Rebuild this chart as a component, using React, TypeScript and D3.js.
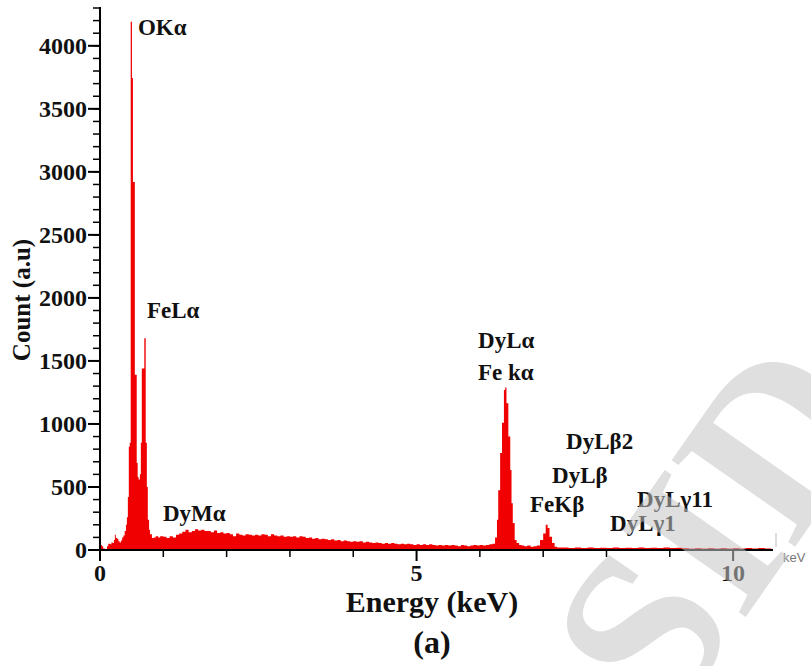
import React from 'react';
import * as d3 from 'd3';

// EDS spectrum: energy (keV) and counts (a.u.)
const energyKeV = [
  0.00, 0.03, 0.05, 0.08, 0.11, 0.13, 0.16, 0.18, 0.20, 0.22,
  0.235, 0.25, 0.27, 0.29, 0.31, 0.33, 0.35, 0.37, 0.39, 0.41,
  0.425, 0.44, 0.455, 0.47, 0.485, 0.505, 0.52, 0.55, 0.58, 0.595,
  0.61, 0.63, 0.645, 0.66, 0.70, 0.722, 0.74, 0.755, 0.775, 0.79,
  0.82, 0.85, 0.88, 0.92, 0.95, 1.00, 1.05, 1.10, 1.15, 1.20,
  1.25, 1.30, 1.35, 1.40, 1.45, 1.50, 1.55, 1.60, 1.65, 1.70,
  1.75, 1.80, 1.85, 1.90, 1.95, 2.00, 2.05, 2.10, 2.15, 2.20,
  2.25, 2.30, 2.35, 2.40, 2.45, 2.50, 2.55, 2.60, 2.65, 2.70,
  2.75, 2.80, 2.85, 2.90, 2.95, 3.00, 3.05, 3.10, 3.15, 3.20,
  3.25, 3.30, 3.35, 3.40, 3.45, 3.50, 3.55, 3.60, 3.65, 3.70,
  3.75, 3.80, 3.85, 3.90, 3.95, 4.00, 4.05, 4.10, 4.15, 4.20,
  4.25, 4.30, 4.35, 4.40, 4.45, 4.50, 4.55, 4.60, 4.65, 4.70,
  4.75, 4.80, 4.85, 4.90, 4.95, 5.00, 5.05, 5.10, 5.15, 5.20,
  5.25, 5.30, 5.35, 5.40, 5.45, 5.50, 5.55, 5.60, 5.65, 5.70,
  5.75, 5.80, 5.85, 5.90, 5.95, 6.00, 6.05, 6.10, 6.15, 6.20,
  6.24, 6.27, 6.29, 6.32, 6.35, 6.38, 6.40, 6.42, 6.45, 6.48,
  6.50, 6.52, 6.55, 6.58, 6.62, 6.66, 6.70, 6.75, 6.80, 6.85,
  6.90, 6.95, 7.00, 7.04, 7.07, 7.10, 7.14, 7.18, 7.22, 7.30,
  7.40, 7.50, 7.60, 7.70, 7.80, 7.90, 8.00, 8.10, 8.20, 8.30,
  8.40, 8.50, 8.60, 8.70, 8.80, 8.90, 9.00, 9.10, 9.20, 9.30,
  9.40, 9.50, 9.60, 9.70, 9.80, 9.90, 10.00, 10.10, 10.20, 10.30,
  10.40, 10.50, 10.60,
];

const counts = [
  40, 30, 12, 8, 30, 50, 45, 60, 55, 80,
  120, 95, 90, 70, 60, 75, 100, 115, 150, 200,
  260, 420, 820, 850, 4190, 3745, 2920, 1390, 690, 580,
  560, 600, 850, 1440, 1680, 850, 500, 240, 160, 125,
  95, 100, 110, 100, 110, 105, 95, 110, 100, 120,
  130, 145, 160, 140, 150, 165, 155, 160, 150, 150,
  140, 155, 135, 140, 130, 135, 125, 110, 130, 120,
  115, 125, 120, 115, 120, 115, 125, 120, 110, 125,
  115, 110, 115, 105, 110, 105, 110, 100, 110, 105,
  95, 100, 90, 95, 85, 90, 85, 80, 85, 75,
  80, 70, 75, 70, 65, 70, 65, 70, 60, 65,
  60, 55, 60, 55, 50, 55, 50, 55, 50, 45,
  50, 45, 50, 45, 40, 45, 40, 45, 40, 45,
  40, 35, 40, 35, 40, 35, 40, 35, 30, 40,
  35, 30, 35, 40, 35, 40, 35, 40, 45, 50,
  100, 240, 475, 770, 1010, 1270, 1290, 1165, 900, 635,
  370, 215, 80, 55, 40, 35, 30, 35, 25, 30,
  35, 80, 130, 200, 175, 105, 55, 25, 20, 20,
  15, 20, 15, 20, 15, 18, 15, 20, 15, 18,
  15, 20, 15, 18, 15, 20, 15, 18, 15, 12,
  15, 12, 15, 12, 15, 12, 15, 12, 15, 12,
  15, 12, 10,
];

const yMajorTicks = [0, 500, 1000, 1500, 2000, 2500, 3000, 3500, 4000];
const yMinorTicks = d3.range(0, 4301, 100);
const xMajorTicks = [0, 5, 10];
const xMinorTicks = [1, 2, 3, 4, 6, 7, 8, 9];

const peakNames = ['OKα', 'FeLα', 'DyMα', 'DyLα', 'Fe kα', 'DyLβ2', 'DyLβ', 'FeKβ', 'DyLγ11', 'DyLγ1'];
const peakLabelKeV = [0.6, 0.742, 0.995, 5.971, 5.971, 7.362, 7.141, 6.793, 8.483, 8.057];
const peakLabelCount = [4086, 1841, 230, 1603, 1349, 801, 532, 301, 341, 151];

const SERIF = '"Liberation Serif", "Times New Roman", serif';
const SANS = '"Liberation Sans", Arial, sans-serif';

export default function App() {
  const W = 811;
  const H = 666;
  const x = d3.scaleLinear().domain([0, 10.63]).range([100, 773]);
  const y = d3.scaleLinear().domain([0, 4300]).range([550, 8]);

  const pts = energyKeV.map((e, i) => [e, counts[i]] as [number, number]);
  const area = d3
    .area<[number, number]>()
    .x((d) => x(d[0]))
    .y0(y(0))
    .y1((d) => y(d[1]))
    .curve(d3.curveStepAfter);

  const wmAngle = -55;

  return (
    <svg width={W} height={H} style={{ position: 'absolute', left: 0, top: 0, background: '#fff' }}>
      <rect x={0} y={0} width={W} height={H} fill="#fff" />
      <path d={area(pts) || ''} fill="#f00000" stroke="none" />

      {/* y axis */}
      <line x1={x(0)} x2={x(0)} y1={y(4300) - 1} y2={y(0) + 1} stroke="#000" strokeWidth={2} />
      {yMinorTicks.map((t) => (
        <line key={'ym' + t} x1={x(0) - 7} x2={x(0)} y1={y(t)} y2={y(t)} stroke="#000" strokeWidth={1.5} />
      ))}
      {yMajorTicks.map((t) => (
        <g key={'yM' + t}>
          <line x1={x(0) - 12} x2={x(0)} y1={y(t)} y2={y(t)} stroke="#000" strokeWidth={2} />
          <text
            x={x(0) - 13}
            y={y(t)}
            dy="0.35em"
            textAnchor="end"
            fontFamily={SERIF}
            fontWeight="bold"
            fontSize={24}
            fill="#111"
          >
            {t}
          </text>
        </g>
      ))}

      {/* x axis */}
      <line x1={x(0) - 1} x2={x(10.63)} y1={y(0)} y2={y(0)} stroke="#000" strokeWidth={2} />
      {xMinorTicks.map((t) => (
        <line key={'xm' + t} x1={x(t)} x2={x(t)} y1={y(0)} y2={y(0) + 7} stroke="#000" strokeWidth={1.5} />
      ))}
      {xMajorTicks.map((t) => (
        <g key={'xM' + t}>
          <line x1={x(t)} x2={x(t)} y1={y(0)} y2={y(0) + 11} stroke="#000" strokeWidth={2} />
          <text
            x={x(t)}
            y={581}
            textAnchor="middle"
            fontFamily={SERIF}
            fontWeight="bold"
            fontSize={24}
            fill="#111"
          >
            {t}
          </text>
        </g>
      ))}
      <line x1={776} x2={776} y1={533} y2={547} stroke="#bbb" strokeWidth={1} />
      <text x={783} y={562} fontFamily={SANS} fontSize={13} fill="#777">
        keV
      </text>

      {/* axis titles */}
      <text
        x={432}
        y={612}
        textAnchor="middle"
        fontFamily={SERIF}
        fontWeight="bold"
        fontSize={30}
        fill="#111"
      >
        Energy (keV)
      </text>
      <text x={432} y={653} textAnchor="middle" fontFamily={SERIF} fontWeight="bold" fontSize={32} fill="#111">
        (a)
      </text>
      <text
        transform="translate(30,300) rotate(-90)"
        textAnchor="middle"
        fontFamily={SERIF}
        fontWeight="bold"
        fontSize={25}
        fill="#111"
      >
        Count (a.u)
      </text>

      {/* peak labels */}
      {peakNames.map((n, i) => (
        <text
          key={n}
          x={x(peakLabelKeV[i])}
          y={y(peakLabelCount[i])}
          fontFamily={SERIF}
          fontWeight="bold"
          fontSize={23}
          fill="#111"
        >
          {n}
        </text>
      ))}

      {/* watermark */}
      <text
        transform={`translate(668,728) rotate(${wmAngle})`}
        fontFamily={SERIF}
        fontWeight="bold"
        fontSize={230}
        fill="#c4c4c4"
        fillOpacity={0.55}
      >
        SID
      </text>
    </svg>
  );
}
